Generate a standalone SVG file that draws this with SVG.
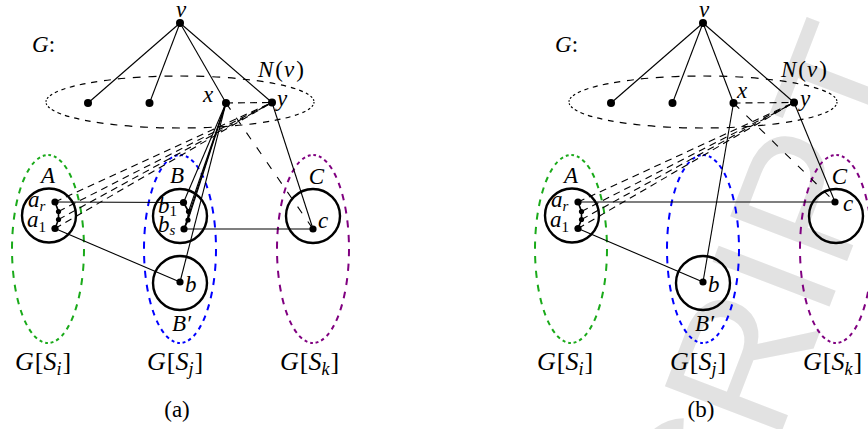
<svg xmlns="http://www.w3.org/2000/svg" width="868" height="429" viewBox="0 0 868 429" font-family="'Liberation Serif', 'DejaVu Serif', serif">
<style>
.ln{stroke:#000;stroke-width:1.1;fill:none}
.dl{stroke:#000;stroke-width:1.1;fill:none;stroke-dasharray:7 5}
.dx{stroke:#000;stroke-width:1.1;fill:none;stroke-dasharray:8 10}
.ch{stroke:#000;stroke-width:1.6;fill:none}
.circ{fill:none;stroke:#000;stroke-width:2.4}
.nv{fill:none;stroke:#000;stroke-width:1.2;stroke-dasharray:1.6 1.7 2.0 2.3 2.6 3.0 3.4 3.8 4.2 4.6 5.0 5.3 5.7 6.0 6.3 6.6 6.9 7.1 7.3 7.5 7.7 7.8 7.9 8.0 8.1 8.1 8.1 8.1 8.0 7.9 7.8 7.7 7.5 7.3 7.1 6.9 6.6 6.3 6.0 5.7 5.3 5.0 4.6 4.2 3.8 3.4 3.0 2.6 2.3 2.0 1.7 1.6}
.grp{fill:none;stroke-width:2;stroke-dasharray:7.4 7.3 7.3 7.1 7.0 6.8 6.6 6.3 6.1 5.8 5.4 5.1 4.7 4.4 4.0 3.7 3.4 3.1 2.9 2.8 2.8 2.9 3.1 3.4 3.7 4.0 4.4 4.7 5.1 5.4 5.8 6.1 6.3 6.6 6.8 7.0 7.1 7.3 7.3 7.4}
.gi{stroke:#1aaa1a}.gj{stroke:#0000ff}.gk{stroke:#800080}
.t{font-style:italic;font-size:23px;fill:#000}
.g{font-size:26px}
.u{font-style:normal}
.s{font-size:15px}
.sg{font-size:18px}
.wm{font-size:182px;fill:#e2e2e2}
</style>
<text class="wm" x="0" y="0" text-anchor="end" font-family="'Liberation Sans', Arial, sans-serif" transform="translate(925,58) rotate(-69)">MANUSCRIPT</text>

<!-- (a) -->
<g id="diagram-a">
  <g id="a-groups">
    <ellipse class="grp gi" cx="48" cy="249" rx="36" ry="94"/>
    <ellipse class="grp gj" cx="180" cy="249" rx="36" ry="94"/>
    <ellipse class="grp gk" cx="313" cy="249" rx="36" ry="94"/>
    <ellipse class="nv" cx="180" cy="102" rx="134" ry="26"/>
  </g>
  <g id="a-connectors">
    <line class="ln" x1="180" y1="23" x2="88" y2="103"/>
    <line class="ln" x1="180" y1="23" x2="149.5" y2="103"/>
    <line class="ln" x1="180" y1="23" x2="226" y2="103"/>
    <line class="ln" x1="180" y1="23" x2="272" y2="102.5"/>
    <line class="dl" x1="226" y1="103" x2="272" y2="102.5"/>
    <line class="dl" x1="55" y1="202" x2="272" y2="102.5"/>
    <line class="dl" x1="58.5" y1="211.5" x2="272" y2="102.5"/>
    <line class="dl" x1="58.5" y1="219.5" x2="272" y2="102.5"/>
    <line class="dl" x1="55" y1="228.5" x2="272" y2="102.5"/>
    <line class="ln" x1="55" y1="202" x2="183.5" y2="202.5"/>
    <line class="ln" x1="184" y1="229" x2="313" y2="229"/>
    <line class="ln" x1="55" y1="228.5" x2="180" y2="282"/>
    <line class="ln" x1="226" y1="103" x2="183.5" y2="202.5"/>
    <line class="ln" x1="226" y1="103" x2="188.5" y2="211.5"/>
    <line class="ln" x1="226" y1="103" x2="188" y2="220"/>
    <line class="ln" x1="226" y1="103" x2="184" y2="229"/>
    <line class="ln" x1="226" y1="103" x2="180" y2="282"/>
    <line class="ln" x1="272" y1="102.5" x2="313" y2="229"/>
    <line class="dx" x1="226" y1="103" x2="313" y2="229"/>
    <polyline class="ch" points="55,202 58.5,211.5 58.5,219.5 55,228.5"/>
    <polyline class="ch" points="183.5,202.5 188.5,211.5 188,220 184,229"/>
  </g>
  <g id="a-v"><circle cx="180" cy="23" r="4"/><text class="t" x="181" y="17" text-anchor="middle">v</text></g>
  <g id="a-G"><text class="t" x="32" y="52">G<tspan class="u">:</tspan></text></g>
  <g id="a-Nv"><text class="t" x="258" y="77" font-size="25">N<tspan class="u" dx="2">(</tspan><tspan dx="1">v</tspan><tspan class="u" dx="2">)</tspan></text></g>
  <g id="a-n1"><circle cx="88" cy="103" r="4"/></g>
  <g id="a-n2"><circle cx="149.5" cy="103" r="4"/></g>
  <g id="a-x"><circle cx="226" cy="103" r="4"/><text class="t" x="203" y="101.5">x</text></g>
  <g id="a-y"><circle cx="272" cy="102.5" r="4"/><text class="t" x="277" y="106">y</text></g>
  <g id="a-A">
    <circle class="circ" cx="49" cy="215.5" r="27"/>
    <text class="t" x="48" y="183" text-anchor="middle">A</text>
    <circle cx="55" cy="202" r="3.6"/><circle cx="58.5" cy="211.5" r="2.6"/><circle cx="58.5" cy="219.5" r="2.6"/><circle cx="55" cy="228.5" r="3.6"/>
    <text class="t" x="28" y="206.5">a<tspan class="s" dy="4">r</tspan></text>
    <text class="t" x="27" y="227">a<tspan class="s u" dy="5">1</tspan></text>
  </g>
  <g id="a-B">
    <circle class="circ" cx="180" cy="216" r="27"/>
    <text class="t" x="177" y="183" text-anchor="middle">B</text>
    <circle cx="183.5" cy="202.5" r="3.6"/><circle cx="188.5" cy="211.5" r="2.6"/><circle cx="188" cy="220" r="2.6"/><circle cx="184" cy="229" r="3.6"/>
    <text class="t" x="158" y="213">b<tspan class="s u" dy="3">1</tspan></text>
    <text class="t" x="158" y="231.5">b<tspan class="s" dy="3.5">s</tspan></text>
  </g>
  <g id="a-Bp">
    <circle class="circ" cx="180" cy="283" r="27"/>
    <circle cx="180" cy="282" r="3.6"/>
    <text class="t" x="185" y="292">b</text>
    <text class="t" x="172" y="331">B′</text>
  </g>
  <g id="a-C">
    <circle class="circ" cx="313" cy="216" r="27"/>
    <text class="t" x="316.5" y="184" text-anchor="middle">C</text>
    <circle cx="313" cy="229" r="3.6"/>
    <text class="t" x="318" y="228">c</text>
  </g>
  <g id="a-labels">
    <text class="t g" x="15" y="370">G<tspan class="u" dx="1">[</tspan>S<tspan class="sg" dy="5">i</tspan><tspan class="u" dy="-5" dx="1">]</tspan></text>
    <text class="t g" x="147" y="370">G<tspan class="u" dx="1">[</tspan>S<tspan class="sg" dy="5">j</tspan><tspan class="u" dy="-5" dx="1">]</tspan></text>
    <text class="t g" x="280" y="370">G<tspan class="u" dx="1">[</tspan>S<tspan class="sg" dy="5">k</tspan><tspan class="u" dy="-5" dx="1">]</tspan></text>
    <text class="t u" x="177" y="417" text-anchor="middle" font-size="25">(a)</text>
  </g>
</g>

<!-- (b) -->
<g id="diagram-b" transform="translate(523,0)">
  <g id="b-groups">
    <ellipse class="grp gi" cx="48" cy="249" rx="36" ry="94"/>
    <ellipse class="grp gj" cx="180" cy="249" rx="36" ry="94"/>
    <ellipse class="grp gk" cx="313" cy="249" rx="36" ry="94"/>
    <ellipse class="nv" cx="180" cy="102" rx="134" ry="26"/>
  </g>
  <g id="b-connectors">
    <line class="ln" x1="180" y1="23" x2="88" y2="103"/>
    <line class="ln" x1="180" y1="23" x2="149.5" y2="103"/>
    <line class="ln" x1="180" y1="23" x2="210.5" y2="103"/>
    <line class="ln" x1="180" y1="23" x2="271" y2="102.5"/>
    <line class="dl" x1="210.5" y1="103" x2="271" y2="102.5"/>
    <line class="dl" x1="55" y1="202" x2="271" y2="102.5"/>
    <line class="dl" x1="58.5" y1="211.5" x2="271" y2="102.5"/>
    <line class="dl" x1="58.5" y1="219.5" x2="271" y2="102.5"/>
    <line class="dl" x1="55" y1="228.5" x2="271" y2="102.5"/>
    <line class="ln" x1="55" y1="202" x2="312" y2="202"/>
    <line class="ln" x1="55" y1="228.5" x2="180" y2="282"/>
    <line class="ln" x1="210.5" y1="103" x2="180" y2="282"/>
    <line class="ln" x1="271" y1="102.5" x2="312" y2="202"/>
    <line class="dx" x1="210.5" y1="103" x2="312" y2="202"/>
    <polyline class="ch" points="55,202 58.5,211.5 58.5,219.5 55,228.5"/>
  </g>
  <g id="b-v"><circle cx="180" cy="23" r="4"/><text class="t" x="181" y="17" text-anchor="middle">v</text></g>
  <g id="b-G"><text class="t" x="32" y="52">G<tspan class="u">:</tspan></text></g>
  <g id="b-Nv"><text class="t" x="258" y="77" font-size="25">N<tspan class="u" dx="2">(</tspan><tspan dx="1">v</tspan><tspan class="u" dx="2">)</tspan></text></g>
  <g id="b-n1"><circle cx="88" cy="103" r="4"/></g>
  <g id="b-n2"><circle cx="149.5" cy="103" r="4"/></g>
  <g id="b-x"><circle cx="210.5" cy="103" r="4"/><text class="t" x="214" y="98">x</text></g>
  <g id="b-y"><circle cx="271" cy="102.5" r="4"/><text class="t" x="277" y="106">y</text></g>
  <g id="b-A">
    <circle class="circ" cx="49" cy="215.5" r="27"/>
    <text class="t" x="48" y="183" text-anchor="middle">A</text>
    <circle cx="55" cy="202" r="3.6"/><circle cx="58.5" cy="211.5" r="2.6"/><circle cx="58.5" cy="219.5" r="2.6"/><circle cx="55" cy="228.5" r="3.6"/>
    <text class="t" x="28" y="206.5">a<tspan class="s" dy="4">r</tspan></text>
    <text class="t" x="27" y="227">a<tspan class="s u" dy="5">1</tspan></text>
  </g>
  <g id="b-Bp">
    <circle class="circ" cx="180" cy="283" r="27"/>
    <circle cx="180" cy="282" r="3.6"/>
    <text class="t" x="185" y="292">b</text>
    <text class="t" x="172" y="331">B′</text>
  </g>
  <g id="b-C">
    <circle class="circ" cx="313" cy="216" r="27"/>
    <text class="t" x="316.5" y="184" text-anchor="middle">C</text>
    <circle cx="312" cy="202" r="3.6"/>
    <text class="t" x="320" y="211">c</text>
  </g>
  <g id="b-labels">
    <text class="t g" x="14" y="370">G<tspan class="u" dx="1">[</tspan>S<tspan class="sg" dy="5">i</tspan><tspan class="u" dy="-5" dx="1">]</tspan></text>
    <text class="t g" x="147" y="370">G<tspan class="u" dx="1">[</tspan>S<tspan class="sg" dy="5">j</tspan><tspan class="u" dy="-5" dx="1">]</tspan></text>
    <text class="t g" x="280" y="370">G<tspan class="u" dx="1">[</tspan>S<tspan class="sg" dy="5">k</tspan><tspan class="u" dy="-5" dx="1">]</tspan></text>
    <text class="t u" x="178" y="417" text-anchor="middle" font-size="25">(b)</text>
  </g>
</g>
</svg>
